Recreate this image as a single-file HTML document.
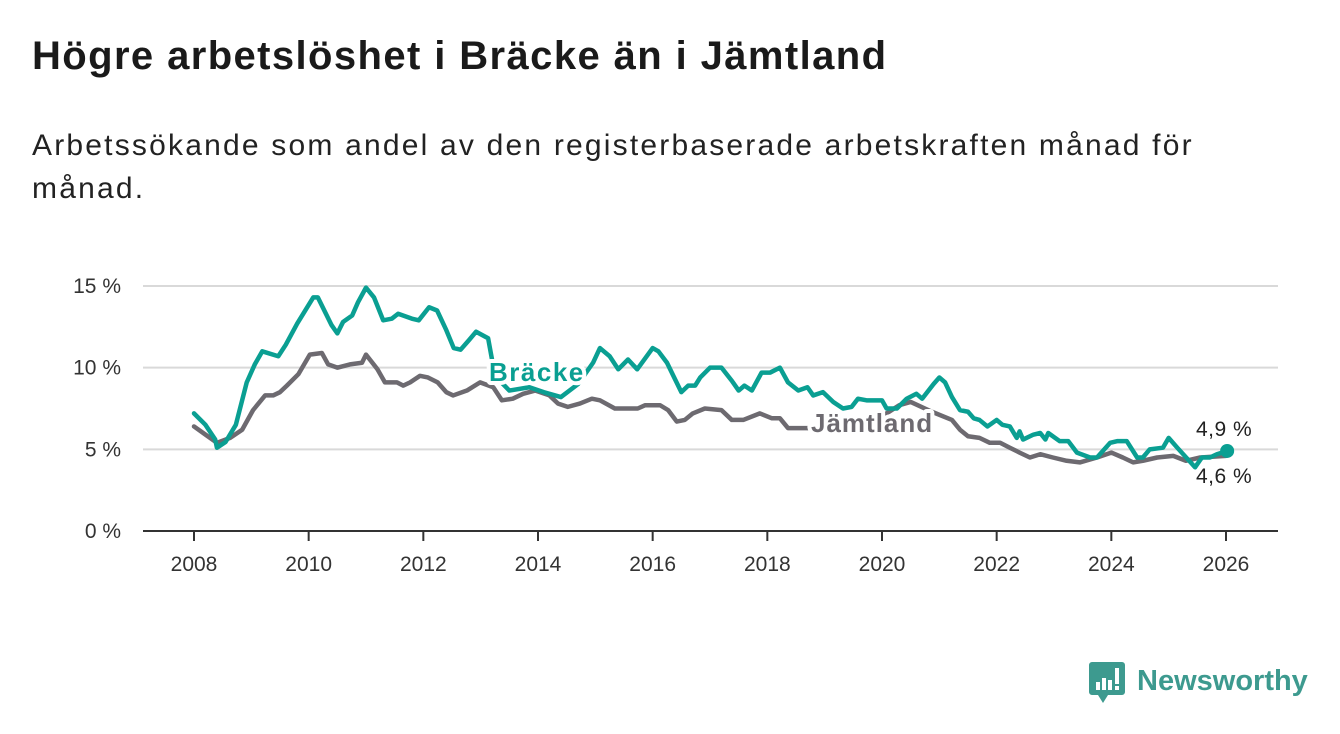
<!DOCTYPE html>
<html><head><meta charset="utf-8">
<style>
body{margin:0;background:#fff;width:1340px;height:734px;overflow:hidden;font-family:"Liberation Sans","DejaVu Sans",sans-serif;}
#title{position:absolute;left:32px;top:34px;font-size:40px;letter-spacing:1.4px;font-weight:bold;color:#1a1a1a;margin:0;white-space:nowrap;}
#sub{position:absolute;left:32px;top:124px;font-size:30px;letter-spacing:2.2px;color:#222;line-height:43px;width:1240px;margin:0;}
svg{position:absolute;left:0;top:0;}
</style></head><body>
<h1 id="title">Högre arbetslöshet i Bräcke än i Jämtland</h1>
<p id="sub">Arbetssökande som andel av den registerbaserade arbetskraften månad för månad.</p>
<svg id="chart" width="1340" height="734"></svg>
<script>
const yTicks=[0,5,10,15];
const xTicks=[2008,2010,2012,2014,2016,2018,2020,2022,2024,2026];
const brYears=[2008.0,2008.2,2008.37,2008.4,2008.55,2008.73,2008.92,2009.06,2009.19,2009.47,2009.6,2009.8,2010.08,2010.16,2010.4,2010.5,2010.6,2010.76,2010.86,2011.0,2011.14,2011.3,2011.45,2011.56,2011.8,2011.92,2012.1,2012.24,2012.4,2012.53,2012.65,2012.8,2012.92,2013.13,2013.25,2013.5,2013.85,2014.1,2014.4,2014.7,2014.96,2015.08,2015.25,2015.4,2015.57,2015.73,2016.0,2016.1,2016.25,2016.5,2016.62,2016.74,2016.83,2017.0,2017.2,2017.38,2017.5,2017.6,2017.73,2017.9,2018.05,2018.22,2018.36,2018.54,2018.7,2018.8,2018.97,2019.15,2019.32,2019.47,2019.58,2019.73,2020.0,2020.08,2020.26,2020.43,2020.6,2020.7,2020.9,2021.0,2021.1,2021.22,2021.36,2021.5,2021.6,2021.7,2021.84,2022.0,2022.1,2022.23,2022.35,2022.4,2022.46,2022.64,2022.76,2022.85,2022.9,2023.1,2023.25,2023.4,2023.63,2023.75,2023.98,2024.1,2024.27,2024.45,2024.55,2024.67,2024.9,2025.0,2025.15,2025.46,2025.58,2025.72,2025.84,2026.02];
const brValues=[7.2,6.5,5.6,5.1,5.45,6.5,9.1,10.2,11.0,10.7,11.4,12.7,14.3,14.3,12.6,12.1,12.8,13.2,14.0,14.9,14.3,12.9,13.0,13.3,13.0,12.9,13.7,13.5,12.3,11.2,11.1,11.7,12.2,11.8,9.5,8.6,8.8,8.5,8.2,9.0,10.3,11.2,10.7,9.9,10.5,9.9,11.2,11.0,10.3,8.5,8.9,8.9,9.4,10.0,10.0,9.2,8.6,8.9,8.6,9.7,9.7,10.0,9.1,8.6,8.8,8.3,8.5,7.9,7.5,7.6,8.1,8.0,8.0,7.5,7.5,8.1,8.4,8.1,9.0,9.4,9.1,8.2,7.4,7.3,6.9,6.8,6.4,6.8,6.5,6.4,5.7,6.1,5.6,5.9,6.0,5.6,6.0,5.5,5.5,4.8,4.5,4.5,5.4,5.5,5.5,4.5,4.5,5.0,5.1,5.7,5.1,3.9,4.5,4.5,4.7,4.9];
const jmYears=[2008.0,2008.2,2008.4,2008.63,2008.84,2009.03,2009.24,2009.38,2009.5,2009.62,2009.82,2010.02,2010.23,2010.34,2010.5,2010.72,2010.93,2011.0,2011.2,2011.33,2011.54,2011.65,2011.77,2011.94,2012.08,2012.25,2012.4,2012.52,2012.76,2012.99,2013.22,2013.37,2013.56,2013.74,2013.95,2014.2,2014.35,2014.52,2014.73,2014.94,2015.08,2015.34,2015.74,2015.87,2016.13,2016.27,2016.42,2016.56,2016.7,2016.91,2017.2,2017.38,2017.58,2017.87,2018.08,2018.22,2018.36,2018.7,2019.0,2019.5,2019.9,2020.3,2020.5,2020.87,2021.22,2021.36,2021.5,2021.7,2021.88,2022.06,2022.23,2022.4,2022.58,2022.76,2022.98,2023.22,2023.45,2023.75,2024.0,2024.2,2024.38,2024.55,2024.8,2025.08,2025.3,2025.55,2026.0];
const jmValues=[6.4,5.9,5.4,5.7,6.2,7.4,8.3,8.3,8.5,8.9,9.6,10.8,10.9,10.2,10.0,10.2,10.3,10.8,9.9,9.1,9.1,8.9,9.1,9.5,9.4,9.1,8.5,8.3,8.6,9.1,8.8,8.0,8.1,8.4,8.6,8.3,7.8,7.6,7.8,8.1,8.0,7.5,7.5,7.7,7.7,7.4,6.7,6.8,7.2,7.5,7.4,6.8,6.8,7.2,6.9,6.9,6.3,6.3,6.2,6.0,6.8,7.7,7.9,7.3,6.8,6.2,5.8,5.7,5.4,5.4,5.1,4.8,4.5,4.7,4.5,4.3,4.2,4.5,4.8,4.5,4.2,4.3,4.5,4.6,4.3,4.5,4.6];
const NS='http://www.w3.org/2000/svg';
const svg=document.getElementById('chart');
const X=y=>194+(y-2008)*(1226-194)/18;
const Y=v=>531-v*(531-286)/15;
function mk(t,a){const e=document.createElementNS(NS,t);for(const k in a)e.setAttribute(k,a[k]);svg.appendChild(e);return e;}
yTicks.forEach(v=>{
  const g=mk('line',{x1:143,x2:1278,y1:Y(v),y2:Y(v),stroke:v===0?'#333':'#d9d9d9','stroke-width':2});
  
  
  const t=mk('text',{x:121,y:Y(v)+7,'text-anchor':'end','font-size':21,fill:'#333'});
  t.textContent=v+' %';
  
  
});
xTicks.forEach(yr=>{
  const l=mk('line',{x1:X(yr),x2:X(yr),y1:531,y2:541,stroke:'#333','stroke-width':2});
  
  
  const t=mk('text',{x:X(yr),y:571,'text-anchor':'middle','font-size':21,fill:'#333'});
  t.textContent=yr;
  
  
});
function line(xs,vs,col){return mk('polyline',{points:xs.map((x,i)=>X(x)+','+Y(vs[i])).join(' '),fill:'none',stroke:col,'stroke-width':4.5,'stroke-linejoin':'round','stroke-linecap':'round'});}
const jl=line(jmYears,jmValues,'#6d6a70');


const bl=line(brYears,brValues,'#0a9f92');


const dot=mk('circle',{cx:X(brYears[brYears.length-1]),cy:Y(brValues[brValues.length-1]),r:7,fill:'#0a9f92'});


function lab(x,y,txt,col,size,bold,ls){const t=mk('text',{x:x,y:y,'font-size':size,'font-weight':bold?'bold':'normal','letter-spacing':ls,fill:col,stroke:'#fff','stroke-width':bold?8:5,'paint-order':'stroke','stroke-linejoin':'round'});t.textContent=txt;return t;}
let t=lab(489,381,'Bräcke','#0a9f92',26,true,1.5);


t=lab(811,432,'Jämtland','#6d6a70',26,true,1);


t=lab(1196,436,'4,9 %','#222',21,false,0.5);


t=lab(1196,483,'4,6 %','#222',21,false,0.5);


</script>
<svg width="1340" height="734" style="pointer-events:none">
  <path d="M1092 662 h30 a3 3 0 0 1 3 3 v27 a3 3 0 0 1 -3 3 h-14 l-5 8 l-5 -8 h-6 a3 3 0 0 1 -3 -3 v-27 a3 3 0 0 1 3 -3z" fill="#3d9a8f"/>
  <rect x="1096" y="682" width="4" height="8" fill="#fff"/><rect x="1102" y="678" width="4" height="12" fill="#fff"/><rect x="1108" y="680" width="4" height="10" fill="#fff"/><rect x="1115" y="668" width="4" height="16" fill="#fff"/><rect x="1115" y="686" width="4" height="4" fill="#fff"/>
  <text x="1137" y="690" font-size="29" font-weight="bold" fill="#3d9a8f" font-family="Liberation Sans, sans-serif">Newsworthy</text>
</svg>
</body></html>
